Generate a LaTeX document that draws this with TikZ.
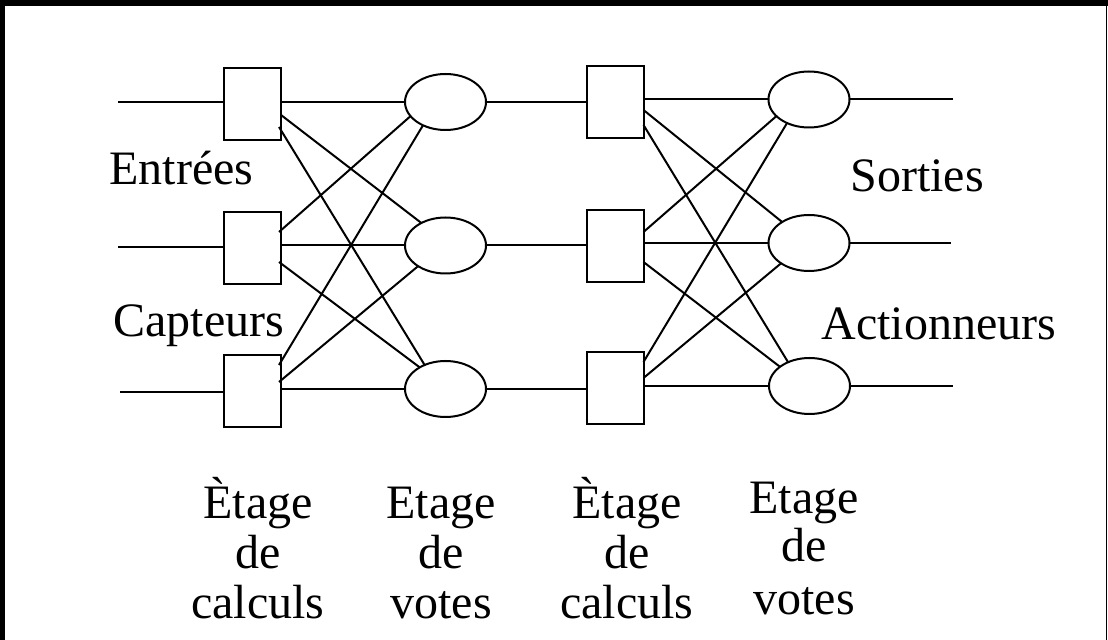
\documentclass[tikz,border=0pt]{standalone}
\usepackage{fontspec}
\setmainfont{Liberation Serif}
\usetikzlibrary{shapes.geometric,calc}
\begin{document}
\begin{tikzpicture}[x=0.5pt,y=-0.5pt,
  wire/.style={line width=1pt},
  calcbox/.style={draw,line width=1pt,rectangle,inner sep=0pt,outer sep=0pt,minimum width=28.5pt,minimum height=36pt},
  vote/.style={draw,line width=1pt,ellipse,inner sep=0pt,outer sep=0pt,minimum width=40.5pt,minimum height=28pt},
  lbl/.style={font=\fontsize{24}{25}\selectfont,inner sep=0pt}]
\useasboundingbox (0,0) rectangle (1108,640);
% frame
\draw[line width=2.6pt] (2.5,640) -- (2.5,3);
\draw[line width=3pt] (0,3) -- (1108,3);
\draw[line width=0.75pt] (1106.5,3) -- (1106.5,640);
% nodes
\node[calcbox] (b1) at (252.5,104.5) {};
\node[calcbox] (b2) at (252.5,248.5) {};
\node[calcbox] (b3) at (252.5,391) {};
\node[vote] (v1) at (445.5,102) {};
\node[vote] (v2) at (445.5,245.5) {};
\node[vote] (v3) at (445.5,389) {};
\node[calcbox] (b4) at (615,102) {};
\node[calcbox] (b5) at (615,246) {};
\node[calcbox] (b6) at (615,388) {};
\node[vote] (v4) at (809,99.5) {};
\node[vote] (v5) at (809,243) {};
\node[vote] (v6) at (809.5,386) {};
\coordinate (i1) at (118,102);
\coordinate (i2) at (118,247);
\coordinate (i3) at (120,392);
\coordinate (o1) at (953,99);
\coordinate (o2) at (951,241);
\coordinate (o3) at (953,384);
% inputs / outputs
\draw[wire] (i1) -- (i1 -| b1.west);
\draw[wire] (i2) -- (i2 -| b2.west);
\draw[wire] (i3) -- (i3 -| b3.west);
\draw[wire] (v4.east) -- (v4.east -| o1);
\draw[wire] (v5.east) -- (v5.east -| o2);
\draw[wire] (v6.east) -- (v6.east -| o3);
% straight links
\draw[wire] (v1.west -| b1.east) -- (v1.west);
\draw[wire] (v2.west -| b2.east) -- (v2.west);
\draw[wire] (v3.west -| b3.east) -- (v3.west);
\draw[wire] (v1.east) -- (v1.east -| b4.west);
\draw[wire] (v2.east) -- (v2.east -| b5.west);
\draw[wire] (v3.east) -- (v3.east -| b6.west);
\draw[wire] (v4.west -| b4.east) -- (v4.west);
\draw[wire] (v5.west -| b5.east) -- (v5.west);
\draw[wire] (v6.west -| b6.east) -- (v6.west);
% crossing links, first stage
\draw[wire] ($(b1.east)+(0,10.5)$) -- (v2.137);
\draw[wire] ($(b1.east)+(-2,22.5)$) -- (v3.131);
\draw[wire] ($(b2.east)+(-2,-16.5)$) -- (v1.202);
\draw[wire] ($(b2.east)+(-2,13.5)$) -- (v3.140);
\draw[wire] ($(b3.east)+(-2,-26)$) -- (v1.226);
\draw[wire] ($(b3.east)+(-2,-9)$) -- (v2.217);
% crossing links, second stage
\draw[wire] ($(b4.east)+(0,8)$) -- (v5.142);
\draw[wire] ($(b4.east)+(0,23)$) -- (v6.132);
\draw[wire] ($(b5.east)+(0,-14)$) -- (v4.207);
\draw[wire] ($(b5.east)+(0,16)$) -- (v6.147);
\draw[wire] ($(b6.east)+(0,-26)$) -- (v4.227);
\draw[wire] ($(b6.east)+(0,-10)$) -- (v5.216);
% side labels
\node[lbl,anchor=base west] (tin) at (109,185) {Entrées};
\node[lbl,anchor=base west] (tcap) at (113,337) {Capteurs};
\node[lbl,anchor=base west] (tout) at (850,192) {Sorties};
\node[lbl,anchor=base west] (tact) at (821,340) {Actionneurs};
% stage labels
\node[lbl,anchor=base] (s1a) at (258,519) {Ètage};
\node[lbl,anchor=base] (s1b) at (258,568) {de};
\node[lbl,anchor=base] (s1c) at (258,618) {calculs};
\node[lbl,anchor=base] (s2a) at (441,519) {Etage};
\node[lbl,anchor=base] (s2b) at (441,568) {de};
\node[lbl,anchor=base] (s2c) at (441,618) {votes};
\node[lbl,anchor=base] (s3a) at (627,519) {Ètage};
\node[lbl,anchor=base] (s3b) at (627,568) {de};
\node[lbl,anchor=base] (s3c) at (627,618) {calculs};
\node[lbl,anchor=base] (s4a) at (804,514) {Etage};
\node[lbl,anchor=base] (s4b) at (804,562) {de};
\node[lbl,anchor=base] (s4c) at (804,615) {votes};
\end{tikzpicture}
\end{document}
